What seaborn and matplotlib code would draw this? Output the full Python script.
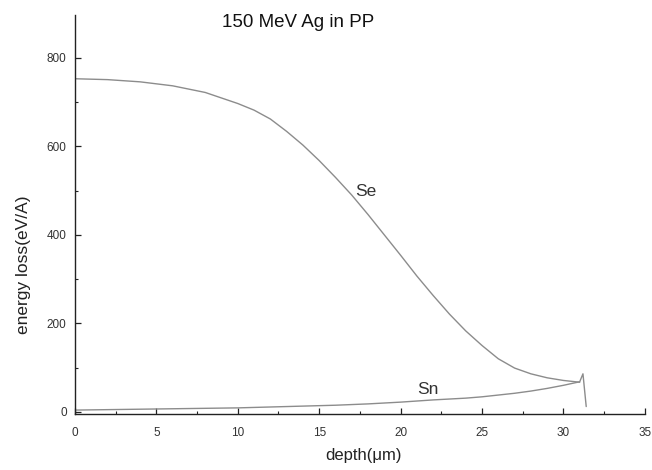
import matplotlib
matplotlib.use("Agg")
import matplotlib.pyplot as plt
import seaborn as sns
import pandas as pd
from matplotlib.ticker import MultipleLocator

sns.set_theme(style="white")
plt.rcParams['font.family'] = ['Liberation Sans', 'DejaVu Sans']

# Data
se_depth = [0, 2, 4, 6, 8, 10, 11, 12, 13, 14, 15, 16, 17, 18, 19, 20, 21, 22, 23,
            24, 25, 26, 27, 28, 29, 30, 31]
se_loss = [753, 751, 746, 737, 722, 697, 682, 662, 634, 603, 568, 530, 490, 446, 400,
           354, 307, 263, 221, 183, 150, 120, 99, 86, 77, 71, 67]
sn_depth = [0, 2, 4, 6, 8, 10, 12, 14, 16, 18, 20, 22, 24, 25, 26, 27, 28, 29, 30,
            31, 31.2, 31.4]
sn_loss = [4, 5, 6, 7, 8, 9, 11, 13, 15, 18, 22, 27, 31, 34, 38, 42, 47, 53, 60,
           68, 86, 12]

title = "150 MeV Ag in PP"
xlabel = "depth(\u03bcm)"
ylabel = "energy loss(eV/A)"
xticks = [0, 5, 10, 15, 20, 25, 30, 35]
yticks = [0, 200, 400, 600, 800]

df = pd.concat([
    pd.DataFrame({"depth": se_depth, "loss": se_loss, "curve": "Se"}),
    pd.DataFrame({"depth": sn_depth, "loss": sn_loss, "curve": "Sn"}),
])

fig = plt.figure(figsize=(6.52, 4.70), dpi=100)
ax = fig.add_axes([0.115, 0.119, 0.874, 0.849])

sns.lineplot(data=df, x="depth", y="loss", units="curve", estimator=None,
             sort=False, color="#8c8c8c", linewidth=1.0, ax=ax, legend=False)

ax.set_xlim(0, 35)
ax.set_ylim(-5, 897)
ax.set_xticks(xticks)
ax.set_yticks(yticks)
ax.xaxis.set_minor_locator(MultipleLocator(2.5))
ax.yaxis.set_minor_locator(MultipleLocator(100))
ax.tick_params(which="both", direction="in", color="#222222", labelsize=8.5,
               labelcolor="#333333")
ax.tick_params(which="major", length=4, width=0.9)
ax.tick_params(which="minor", length=2.5, width=0.8)
ax.tick_params(axis="x", which="both", bottom=True, pad=9)
ax.tick_params(axis="y", which="both", left=True, pad=6)

for s in ["top", "right"]:
    ax.spines[s].set_visible(False)
for s in ["left", "bottom"]:
    ax.spines[s].set_color("#222222")
    ax.spines[s].set_linewidth(1.0)

ax.set_xlabel(xlabel, fontsize=12, color="#222222")
ax.set_ylabel(ylabel, fontsize=12.5, color="#222222")
ax.xaxis.set_label_coords(0.507, -0.085)
ax.yaxis.set_label_coords(-0.078, 0.375)
ax.text(9.0, 881, title, fontsize=13.5, color="#111111", ha="left", va="center")
ax.text(17.2, 499, "Se", fontsize=12.5, color="#333333", ha="left", va="center")
ax.text(21.0, 50, "Sn", fontsize=12.5, color="#333333", ha="left", va="center")

fig.savefig("out.png", dpi=100)
